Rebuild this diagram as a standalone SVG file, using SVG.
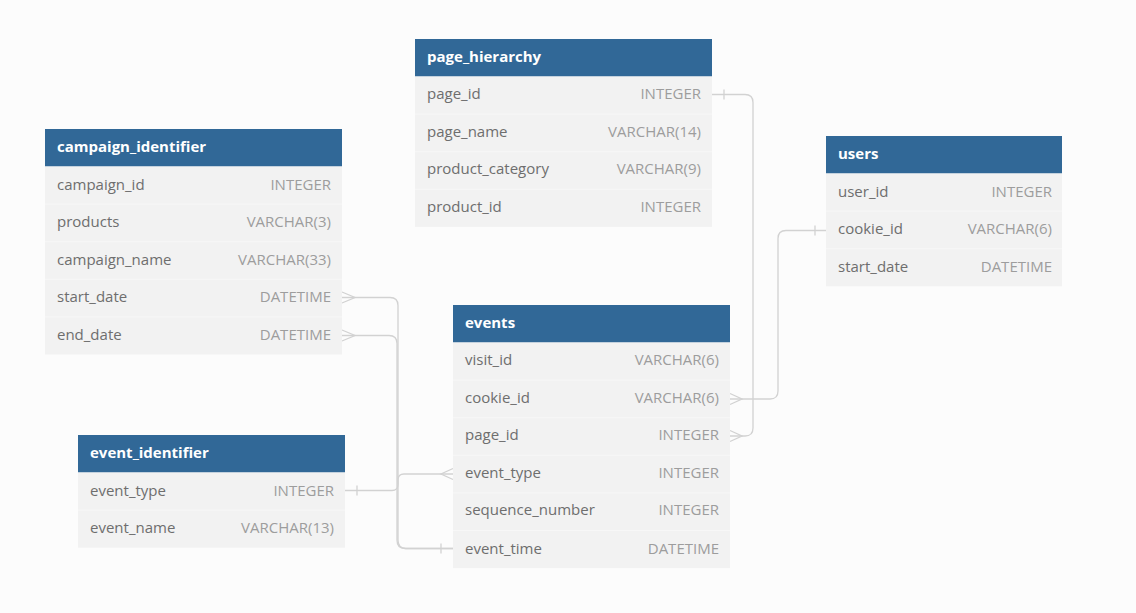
<svg xmlns="http://www.w3.org/2000/svg" width="1136" height="613" viewBox="0 0 1136 613">
<style>
.hd{fill:#316897}
.rw{fill:#f2f2f2}
.sep{stroke:#f7f7f7;stroke-width:1}
.ht{font-family:"Open Sans",sans-serif;font-size:15px;font-weight:bold;fill:#ffffff}
.fn{font-family:"Open Sans",sans-serif;font-size:15px;fill:#6e6e6e}
.ft{font-family:"Open Sans",sans-serif;font-size:15px;fill:#9d9d9d;text-anchor:end}
.cn{fill:none;stroke:#d2d2d2;stroke-width:1.3}
</style>
<rect width="1136" height="613" fill="#fcfcfc"/>
<g id="connectors">
<path class="cn" d="M342,297.5 H390 Q398,297.5 398,305.5 V540 Q398,548.5 406,548.5 H453"/>
<path class="cn" d="M342,335.5 H389 Q397,335.5 397,343.5 V540 Q397,548.5 405,548.5 H453"/>
<path class="cn" d="M345,490.5 H392 Q398,490.5 398,484.5 V480 Q398,474 404,474 H453"/>
<path class="cn" d="M712,94.5 H745 Q753,94.5 753,102.5 V428 Q753,436 745,436 H730"/>
<path class="cn" d="M826,230.5 H786 Q778,230.5 778,238.5 V391 Q778,399 770,399 H730"/>
<path class="cn" d="M342,292 L355,297.5 L342,303"/>
<path class="cn" d="M342,330 L355,335.5 L342,341"/>
<path class="cn" d="M453,468.5 L441,474 L453,479.5"/>
<path class="cn" d="M730,393.5 L742,399 L730,404.5"/>
<path class="cn" d="M730,430.5 L742,436 L730,441.5"/>
<path class="cn" d="M357,485.5 V495.5"/>
<path class="cn" d="M441,543.5 V553.5"/>
<path class="cn" d="M724,89.5 V99.5"/>
<path class="cn" d="M815,225.5 V235.5"/>
</g>
<g id="campaign_identifier" transform="translate(45,129)">
<rect class="hd" width="297" height="37.5"/>
<rect class="rw" y="37.5" width="297" height="188"/>
<line class="sep" x1="0" x2="297" y1="75.1" y2="75.1"/><line class="sep" x1="0" x2="297" y1="112.7" y2="112.7"/><line class="sep" x1="0" x2="297" y1="150.3" y2="150.3"/><line class="sep" x1="0" x2="297" y1="187.9" y2="187.9"/>
<text class="ht" x="12" y="23">campaign_identifier</text>
<text class="fn" x="12" y="60.5">campaign_id</text><text class="ft" x="286" y="60.5">INTEGER</text>
<text class="fn" x="12" y="98.1">products</text><text class="ft" x="286" y="98.1">VARCHAR(3)</text>
<text class="fn" x="12" y="135.7">campaign_name</text><text class="ft" x="286" y="135.7">VARCHAR(33)</text>
<text class="fn" x="12" y="173.3">start_date</text><text class="ft" x="286" y="173.3">DATETIME</text>
<text class="fn" x="12" y="210.9">end_date</text><text class="ft" x="286" y="210.9">DATETIME</text>
</g>
<g id="page_hierarchy" transform="translate(415,39)">
<rect class="hd" width="297" height="37.5"/>
<rect class="rw" y="37.5" width="297" height="150.4"/>
<line class="sep" x1="0" x2="297" y1="75.1" y2="75.1"/><line class="sep" x1="0" x2="297" y1="112.7" y2="112.7"/><line class="sep" x1="0" x2="297" y1="150.3" y2="150.3"/>
<text class="ht" x="12" y="23">page_hierarchy</text>
<text class="fn" x="12" y="60">page_id</text><text class="ft" x="286" y="60">INTEGER</text>
<text class="fn" x="12" y="97.6">page_name</text><text class="ft" x="286" y="97.6">VARCHAR(14)</text>
<text class="fn" x="12" y="135.2">product_category</text><text class="ft" x="286" y="135.2">VARCHAR(9)</text>
<text class="fn" x="12" y="172.8">product_id</text><text class="ft" x="286" y="172.8">INTEGER</text>
</g>
<g id="users" transform="translate(826,136)">
<rect class="hd" width="236" height="37.5"/>
<rect class="rw" y="37.5" width="236" height="112.8"/>
<line class="sep" x1="0" x2="236" y1="75.1" y2="75.1"/><line class="sep" x1="0" x2="236" y1="112.7" y2="112.7"/>
<text class="ht" x="12" y="23">users</text>
<text class="fn" x="12" y="60.5">user_id</text><text class="ft" x="226" y="60.5">INTEGER</text>
<text class="fn" x="12" y="98.1">cookie_id</text><text class="ft" x="226" y="98.1">VARCHAR(6)</text>
<text class="fn" x="12" y="135.7">start_date</text><text class="ft" x="226" y="135.7">DATETIME</text>
</g>
<g id="events" transform="translate(453,305)">
<rect class="hd" width="277" height="37.5"/>
<rect class="rw" y="37.5" width="277" height="225.6"/>
<line class="sep" x1="0" x2="277" y1="75.1" y2="75.1"/><line class="sep" x1="0" x2="277" y1="112.7" y2="112.7"/><line class="sep" x1="0" x2="277" y1="150.3" y2="150.3"/><line class="sep" x1="0" x2="277" y1="187.9" y2="187.9"/><line class="sep" x1="0" x2="277" y1="225.5" y2="225.5"/>
<text class="ht" x="12" y="23">events</text>
<text class="fn" x="12" y="60">visit_id</text><text class="ft" x="266" y="60">VARCHAR(6)</text>
<text class="fn" x="12" y="97.6">cookie_id</text><text class="ft" x="266" y="97.6">VARCHAR(6)</text>
<text class="fn" x="12" y="135.2">page_id</text><text class="ft" x="266" y="135.2">INTEGER</text>
<text class="fn" x="12" y="172.8">event_type</text><text class="ft" x="266" y="172.8">INTEGER</text>
<text class="fn" x="12" y="210.4">sequence_number</text><text class="ft" x="266" y="210.4">INTEGER</text>
<text class="fn" x="12" y="248.5">event_time</text><text class="ft" x="266" y="248.5">DATETIME</text>
</g>
<g id="event_identifier" transform="translate(78,435)">
<rect class="hd" width="267" height="37.5"/>
<rect class="rw" y="37.5" width="267" height="75.2"/>
<line class="sep" x1="0" x2="267" y1="75.1" y2="75.1"/>
<text class="ht" x="12" y="23">event_identifier</text>
<text class="fn" x="12" y="60.5">event_type</text><text class="ft" x="256" y="60.5">INTEGER</text>
<text class="fn" x="12" y="98.1">event_name</text><text class="ft" x="256" y="98.1">VARCHAR(13)</text>
</g>
</svg>
